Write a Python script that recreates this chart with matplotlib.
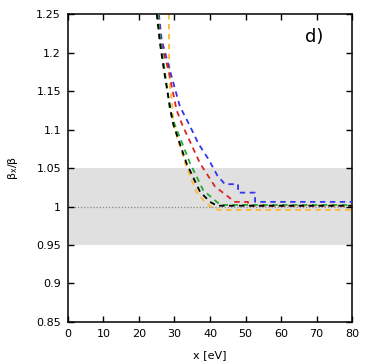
import matplotlib
matplotlib.use("Agg")
import matplotlib.pyplot as plt
from matplotlib.ticker import FuncFormatter

# curves (x in eV, beta_x / beta)
black_x = [25.0, 25.9, 27.3, 29.2, 29.7, 33.4, 37.2, 40.0, 42.0, 80]
black_y = [1.25, 1.212, 1.169, 1.117, 1.106, 1.056, 1.019, 1.006, 1.001, 1.001]

green_x = [25.3, 26.2, 27.6, 28.7, 30.1, 34.4, 38.1, 41.9, 43.0, 80]
green_y = [1.25, 1.21, 1.165, 1.125, 1.106, 1.056, 1.021, 1.006, 1.002, 1.002]

red_x = [25.4, 26.2, 28.3, 30.6, 32.2, 37.2, 41.4, 45.6, 46.8, 50.7, 50.7, 80]
red_y = [1.25, 1.212, 1.177, 1.125, 1.106, 1.056, 1.026, 1.011, 1.006, 1.006, 1.001, 1.001]

blue_x = [25.6, 26.4, 28.7, 31.5, 34.2, 36.7, 39.5, 42.1, 44.2, 47.9, 47.9, 52.7, 52.7, 80]
blue_y = [1.25, 1.216, 1.177, 1.13, 1.106, 1.082, 1.062, 1.04, 1.029, 1.029, 1.018, 1.018, 1.006, 1.006]

orange_x = [28.4, 28.5, 28.7, 29.4, 29.7, 33.0, 36.2, 38.5, 40.5, 42.5, 80]
orange_y = [1.25, 1.19, 1.156, 1.13, 1.106, 1.056, 1.019, 1.006, 0.999, 0.9955, 0.9955]

band = (0.95, 1.05)

fig = plt.figure(figsize=(3.74, 3.64), dpi=100)
ax = fig.add_axes([0.1818, 0.1154, 0.7594, 0.8461])

ax.axhspan(band[0], band[1], color="#e0e0e0", lw=0, zorder=0)
ax.axhline(1.0, color="#888888", lw=0.9, ls=(0, (1, 1.5)), zorder=1)

dash = (0, (3, 2.5))
ax.plot(orange_x, orange_y, color="#ffb833", lw=1.3, ls=dash, zorder=2)
ax.plot(blue_x, blue_y, color="#3333ee", lw=1.3, ls=dash, zorder=3)
ax.plot(red_x, red_y, color="#dd2222", lw=1.3, ls=dash, zorder=4)
ax.plot(green_x, green_y, color="#22aa33", lw=1.3, ls=dash, zorder=5)
ax.plot(black_x, black_y, color="black", lw=1.3, ls=dash, zorder=6)

ax.set_xlim(0, 80)
ax.set_ylim(0.85, 1.25)
ax.set_xticks(range(0, 81, 10))
ax.set_yticks([0.85, 0.9, 0.95, 1.0, 1.05, 1.1, 1.15, 1.2, 1.25])
ax.yaxis.set_major_formatter(FuncFormatter(lambda v, p: "%g" % round(v, 2)))
ax.tick_params(direction="in", top=True, right=True, length=4, width=1, labelsize=8, pad=5)
for s in ax.spines.values():
    s.set_linewidth(1.1)

ax.set_xlabel("x [eV]", fontsize=8, labelpad=8)
ax.set_ylabel(r"$\mathregular{\beta_x/\beta}$", fontsize=8, labelpad=12)
ax.text(0.90, 0.955, "d)", transform=ax.transAxes, fontsize=13, ha="right", va="top")

fig.savefig("out.png", dpi=100)
